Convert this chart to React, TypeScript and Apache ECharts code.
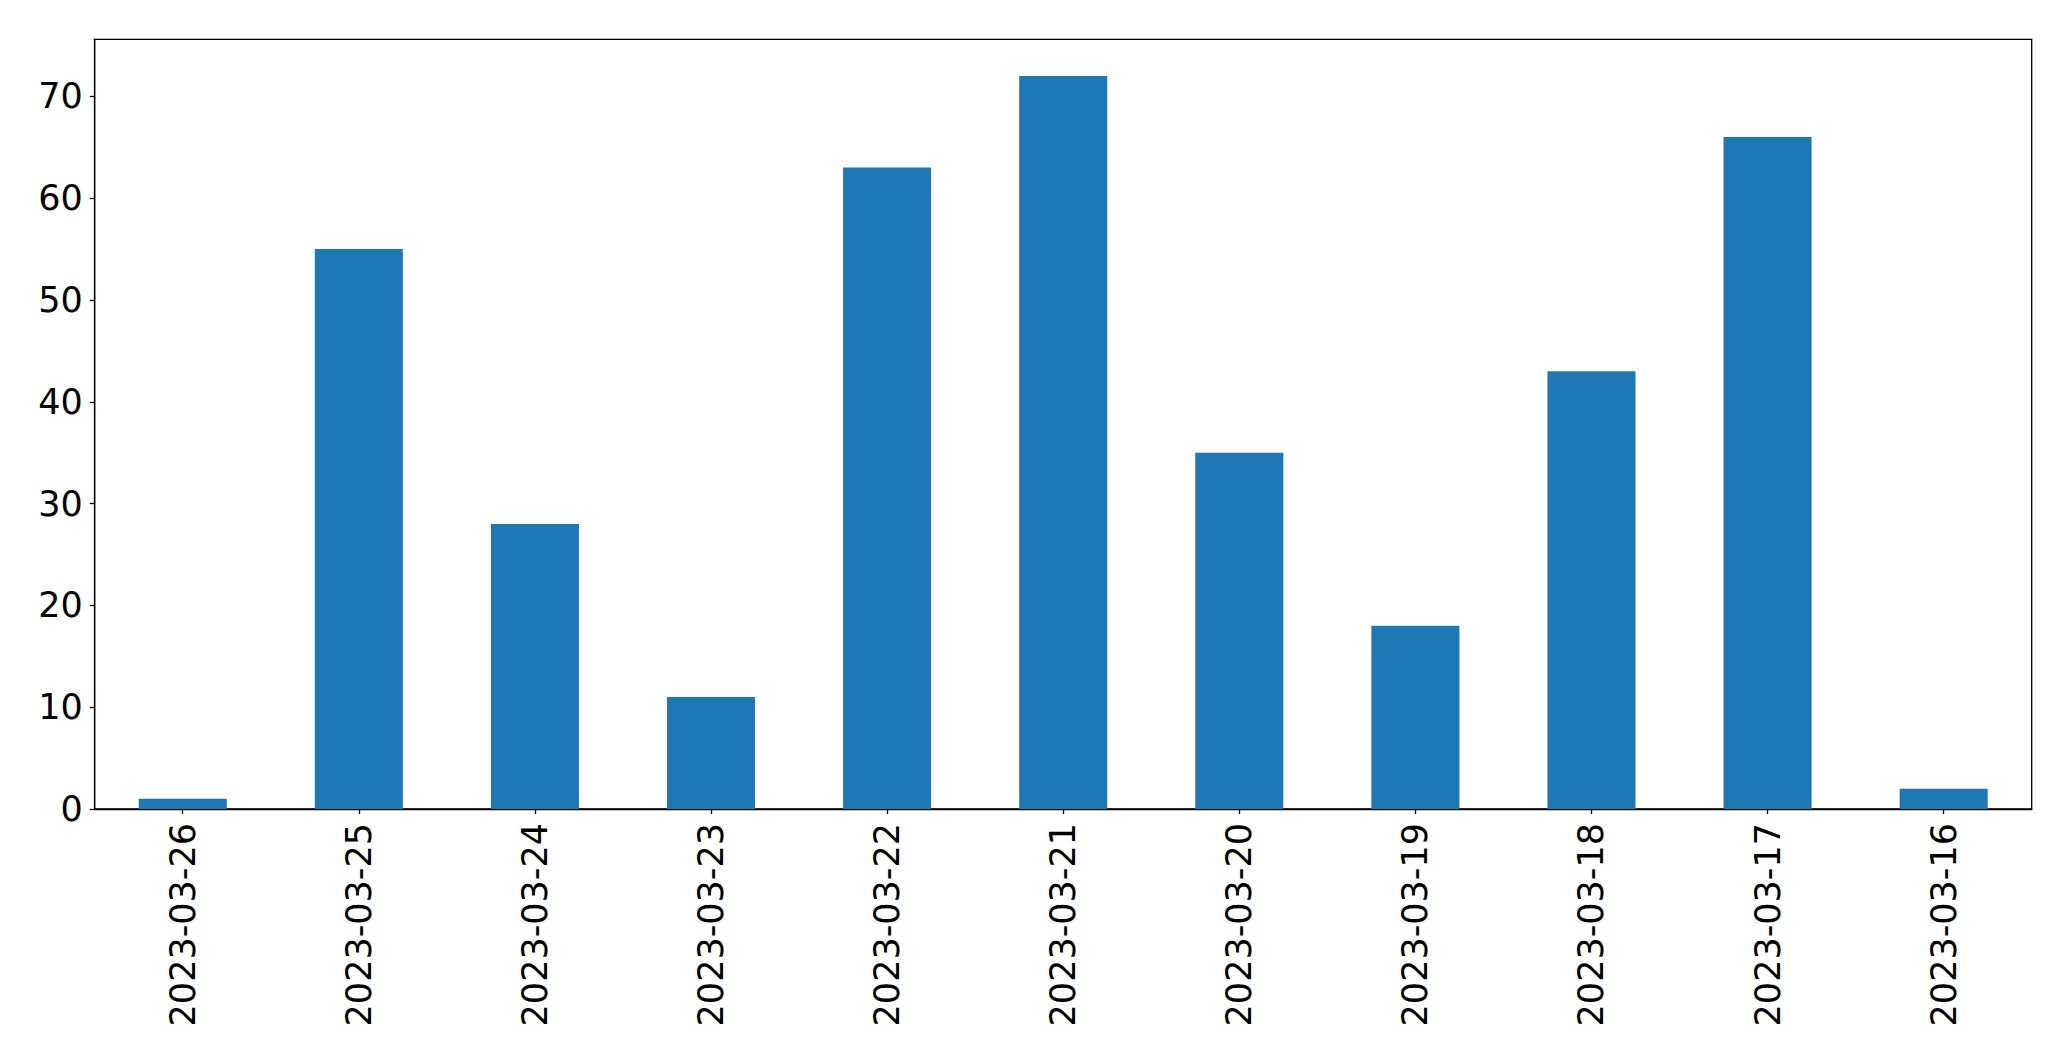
import React, { useEffect, useRef } from "react";
import * as echarts from "echarts";

const categories = [
  "2023-03-26", "2023-03-25", "2023-03-24", "2023-03-23", "2023-03-22",
  "2023-03-21", "2023-03-20", "2023-03-19", "2023-03-18", "2023-03-17", "2023-03-16",
];
const values = [1, 55, 28, 11, 63, 72, 35, 18, 43, 66, 2];
const yTicks = [0, 10, 20, 30, 40, 50, 60, 70];

export default function App() {
  const ref = useRef<HTMLDivElement>(null);
  useEffect(() => {
    if (!ref.current) return;
    const chart = echarts.init(ref.current, null, { renderer: "svg" });
    const font = "DejaVu Sans";
    chart.setOption({
      animation: false,
      backgroundColor: "#ffffff",
      grid: {
        left: 94.7,
        right: 39.3,
        top: 39.3,
        bottom: 252,
        show: true,
        borderColor: "#000000",
        borderWidth: 1.3,
        backgroundColor: "transparent",
      },
      xAxis: {
        type: "category",
        data: categories,
        boundaryGap: true,
        axisLine: { show: true, lineStyle: { color: "#000", width: 1.3 } },
        axisTick: { show: true, alignWithLabel: true, length: 5, lineStyle: { color: "#000", width: 1.3 } },
        axisLabel: {
          rotate: 90,
          margin: 14,
          color: "#000",
          fontFamily: font,
          fontSize: 35,
          interval: 0,
        },
        splitLine: { show: false },
      },
      yAxis: {
        type: "value",
        min: 0,
        max: 75.6,
        interval: 10,
        axisLine: { show: true, lineStyle: { color: "#000", width: 1.3 } },
        axisTick: {
          show: true,
          length: 5,
          customValues: yTicks,
          lineStyle: { color: "#000", width: 1.3 },
        },
        axisLabel: {
          margin: 12,
          color: "#000",
          fontFamily: font,
          fontSize: 35,
          customValues: yTicks,
          formatter: (v: number) => String(v),
        },
        splitLine: { show: false },
      },
      series: [
        {
          type: "bar",
          data: values,
          barWidth: "50%",
          itemStyle: { color: "#1f77b4" },
        },
      ],
    });
    return () => chart.dispose();
  }, []);
  return (
    <div
      ref={ref}
      style={{ position: "fixed", left: 0, top: 0, width: 2071, height: 1061 }}
    />
  );
}
